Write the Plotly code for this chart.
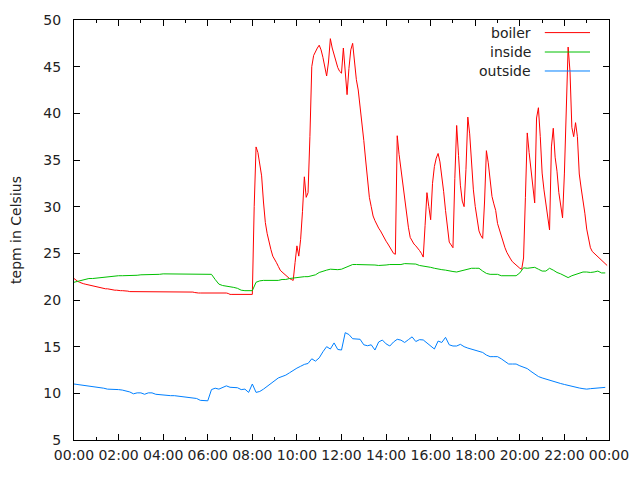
import pandas as pd
import plotly.graph_objects as go

# ---- data ----
boiler = [
    22.3, 22.1, 22.0, 21.9, 21.8, 21.75, 21.7, 21.65, 21.6, 21.55, 21.5, 21.45,
    21.4, 21.35, 21.3, 21.3, 21.25, 21.2, 21.2, 21.15, 21.1, 21.1, 21.05, 21.05,
    21.0, 21.0, 21.0, 21.0, 20.95, 20.95, 20.9, 20.9, 20.9, 20.85, 20.85, 20.85,
    20.85, 20.85, 20.85, 20.85, 20.85, 20.85, 20.85, 20.85, 20.85, 20.85, 20.85, 20.85,
    20.85, 20.85, 20.85, 20.85, 20.85, 20.85, 20.85, 20.85, 20.85, 20.85, 20.85, 20.85,
    20.85, 20.85, 20.9, 20.9, 20.85, 20.8, 20.75, 20.75, 20.75, 20.75, 20.75, 20.75,
    20.75, 20.75, 20.75, 20.8, 20.8, 20.8, 20.75, 20.75, 20.75, 20.75, 20.75, 20.7,
    20.6, 20.6, 20.6, 20.6, 20.6, 20.6, 20.6, 20.6, 20.6, 20.6, 20.6, 20.6,
    20.6, 30.0, 36.4, 35.8, 34.5, 33.3, 30.5, 28.3, 27.1, 26.1, 25.4, 24.7,
    24.4, 24.0, 23.6, 23.2, 23.0, 22.8, 22.6, 22.4, 22.3, 22.2, 22.1, 24.0,
    25.8, 24.7, 26.5, 29.5, 33.2, 31.0, 31.5, 37.5, 45.0, 46.2, 46.7, 47.0,
    47.3, 46.8, 46.0, 45.0, 44.0, 45.5, 48.0, 47.0, 46.2, 45.4, 44.9, 44.5,
    44.3, 47.0, 44.5, 42.0, 44.8, 46.8, 47.5, 45.5, 43.6, 42.5, 40.7, 39.5,
    37.1, 35.0, 33.0, 31.0, 30.0, 29.0, 28.5, 28.0, 27.7, 27.4, 27.0, 26.6,
    26.3, 26.0, 25.7, 25.3, 25.0, 24.9, 37.6, 35.6, 34.0, 32.4, 30.6, 29.3,
    27.8, 26.7, 26.3, 26.0, 25.8, 25.6, 25.3, 25.0, 24.6, 28.0, 31.5, 30.0,
    28.6, 32.5, 34.3, 35.2, 35.7, 34.8, 33.4, 31.6, 29.6, 27.5, 26.2, 25.9,
    25.6, 33.0, 38.7, 35.5, 32.3, 30.6, 30.0, 34.0, 39.6, 37.8, 34.5, 31.8,
    30.0, 28.6, 27.4, 26.9, 26.6, 30.5, 36.0, 34.7, 32.5, 31.1, 30.3, 29.6,
    28.2, 27.5, 26.8, 26.1, 25.6, 25.1, 24.7, 24.4, 24.1, 23.9, 23.7, 23.5,
    23.4, 23.3, 24.5, 31.0, 37.9, 35.8, 33.9, 31.8, 30.4, 39.5, 40.6, 37.5,
    33.6, 31.8, 30.2, 28.8, 27.5, 36.4, 38.4, 35.3, 33.8, 31.5, 29.9, 28.8,
    33.6, 40.0, 47.1, 44.5, 38.5, 37.5, 39.0, 37.5, 33.5, 32.0, 30.8, 29.3,
    27.6, 26.4, 25.6, 25.2, 25.0, 24.8, 24.6, 24.4, 24.2, 24.0, 23.8, 23.7,
]

inside = [
    21.9, 22.0, 22.1, 22.2, 22.3, 22.3,
    22.35, 22.4, 22.4, 22.45, 22.5, 22.6,
    22.6, 22.6, 22.6, 22.6, 22.6, 22.65,
    22.7, 22.7, 22.7, 22.7, 22.7, 22.75,
    22.8, 22.8, 22.8, 22.8, 22.8, 22.8,
    22.8, 22.8, 22.8, 22.8, 22.8, 22.8,
    22.8, 22.75, 22.2, 21.7, 21.55, 21.5,
    21.45, 21.35, 21.25, 21.05, 21.0, 21.0,
    21.0, 21.9, 22.05, 22.1, 22.1, 22.1,
    22.1, 22.1, 22.2, 22.2, 22.3, 22.35,
    22.4, 22.5, 22.5, 22.5, 22.6, 22.7,
    22.95, 23.1, 23.2, 23.3, 23.25, 23.25,
    23.3, 23.45, 23.65, 23.8, 23.8, 23.8,
    23.8, 23.8, 23.8, 23.75, 23.7, 23.7,
    23.75, 23.8, 23.8, 23.75, 23.8, 23.9,
    23.9, 23.9, 23.85, 23.7, 23.65, 23.55,
    23.5, 23.4, 23.3, 23.25, 23.2, 23.1,
    23.05, 23.0, 23.1, 23.2, 23.35, 23.4,
    23.4, 23.4, 23.1, 22.85, 22.75, 22.75,
    22.75, 22.6, 22.6, 22.6, 22.6, 22.6,
    22.9, 23.45, 23.4, 23.45, 23.5, 23.3,
    23.1, 23.1, 23.4, 23.2, 22.95, 22.8,
    22.6, 22.4, 22.6, 22.75, 22.9, 23.0,
    23.0, 22.95, 23.0, 23.1, 22.9, 22.9,
]

outside = [
    11.0, 10.95, 10.9, 10.85, 10.8, 10.7,
    10.7, 10.65, 10.55, 10.45, 10.45, 10.4,
    10.4, 10.35, 10.25, 10.15, 9.95, 10.05,
    10.05, 9.9, 10.05, 10.05, 9.9, 9.85,
    9.82, 9.8, 9.75, 9.75, 9.7, 9.7,
    9.65, 9.6, 9.55, 9.45, 9.25, 9.2,
    9.2, 10.4, 10.55, 10.45, 10.6, 10.8,
    10.65, 10.65, 10.6, 10.4, 10.45, 10.1,
    11.0, 10.1, 10.2, 10.45, 10.75, 11.1,
    11.45, 11.65, 11.8, 11.95, 12.2, 12.5,
    12.7, 12.9, 13.1, 13.2, 13.7, 13.45,
    13.8, 14.45, 15.0, 14.75, 15.4, 14.7,
    14.64, 16.5, 16.3, 15.85, 15.79, 15.79,
    15.2, 15.1, 15.2, 14.64, 15.5, 15.71,
    15.3, 15.07, 15.5, 15.79, 15.7, 15.45,
    15.75, 16.05, 15.55, 15.75, 15.72, 15.4,
    15.0, 14.75, 15.6, 15.45, 16.0, 15.2,
    15.07, 15.07, 15.25, 15.0, 14.85, 14.75,
    14.6, 14.5, 14.38, 14.1, 13.93, 13.93,
    13.93, 13.7, 13.4, 13.14, 13.14, 13.14,
    12.95, 12.8, 12.65, 12.35, 12.05, 11.8,
    11.65, 11.52, 11.4, 11.25, 11.15, 11.05,
    10.95, 10.85, 10.7, 10.6, 10.57, 10.5,
    10.45, 10.5, 10.55, 10.62, 10.64, 10.64,
]

series_names = ["boiler", "inside", "outside"]
series_colors = ["#ff0000", "#00c000", "#0080ff"]
y_label = "tepm in Celsius"

day_start = pd.Timestamp("2013-01-01 00:00")
day_end = pd.Timestamp("2013-01-02 00:00")
t_boiler = pd.date_range(day_start, periods=len(boiler), freq="5min")
t_10 = pd.date_range(day_start, periods=len(inside), freq="10min")

FONT = "DejaVu Sans"
FS = 14
TXT = "#222222"

fig = go.Figure()
for name, t, vals, col in zip(series_names, [t_boiler, t_10, t_10],
                              [boiler, inside, outside], series_colors):
    fig.add_trace(go.Scatter(x=t, y=vals, mode="lines", name=name,
                             line=dict(color=col, width=1), showlegend=False))

# gnuplot-style legend: text on the left, line sample on the right
leg_y = [0.970, 0.9238, 0.8786]
for name, col, yy in zip(series_names, series_colors, leg_y):
    fig.add_annotation(xref="paper", yref="paper", x=0.858, y=yy, text=name,
                       showarrow=False, xanchor="right", yanchor="middle",
                       font=dict(family=FONT, size=FS, color=TXT))
    fig.add_shape(type="line", xref="paper", yref="paper",
                  x0=0.880, x1=0.9645, y0=yy, y1=yy,
                  line=dict(color=col, width=1))

axis_common = dict(showline=True, linecolor="black", linewidth=1, mirror="ticks",
                   ticks="inside", tickcolor="black", showgrid=False, zeroline=False,
                   tickfont=dict(family=FONT, size=FS, color=TXT))

fig.update_xaxes(type="date", range=[day_start, day_end], dtick=7200000,
                 tick0=day_start, tickformat="%H:%M", ticklen=6,
                 minor=dict(ticks="inside", dtick=3600000, ticklen=3, tickcolor="black"),
                 ticklabelstandoff=2, **axis_common)
fig.update_yaxes(range=[5, 50], dtick=5, ticklen=6, ticklabelstandoff=9,
                 title=dict(text=y_label, font=dict(family=FONT, size=FS, color=TXT),
                            standoff=31),
                 **axis_common)

# the page body has an 8px margin, so the figure is sized to fit the window
fig.update_layout(width=632, height=472, paper_bgcolor="white", plot_bgcolor="white",
                  margin=dict(l=66, r=31, t=12, b=40, autoexpand=False),
                  font=dict(family=FONT, size=FS))

fig.write_html("out.html")
